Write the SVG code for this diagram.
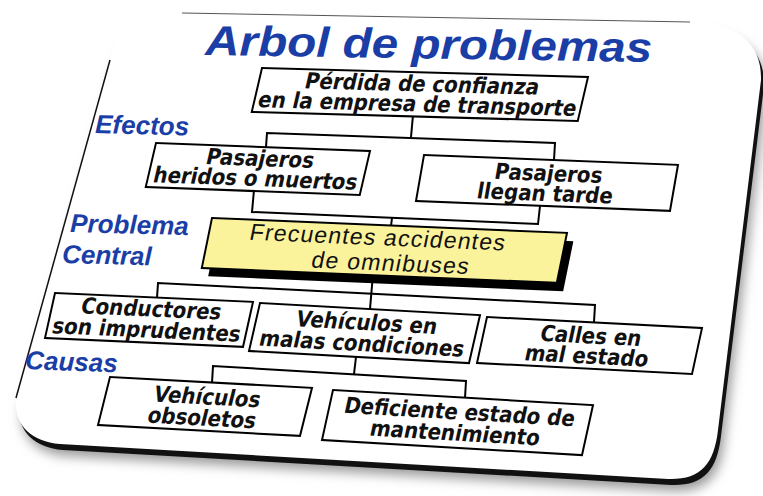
<svg xmlns="http://www.w3.org/2000/svg" width="763" height="496" viewBox="0 0 763 496">
<style>
.box{fill:#fff;stroke:#000;stroke-width:2}
.yel{fill:#fbf39c;stroke:#000;stroke-width:2}
.bt{font-family:"DejaVu Sans Condensed","DejaVu Sans",sans-serif;font-stretch:condensed;font-weight:bold;font-size:22px;fill:#111;text-anchor:middle}
.yt{font-family:"Liberation Sans",Arial,sans-serif;font-size:23px;fill:#111;text-anchor:middle}
.lab{font-family:"Liberation Sans",Arial,sans-serif;font-weight:bold;font-style:italic;font-size:26px;fill:#1a3ea6}
.title{font-family:"Liberation Sans",Arial,sans-serif;font-weight:bold;font-style:italic;font-size:42px;fill:#1a3ea6}
.con{fill:none;stroke:#000;stroke-width:2}
</style>
<defs>
<filter id="blur" x="-10%" y="-10%" width="120%" height="130%"><feGaussianBlur stdDeviation="6"/></filter>
</defs>
<rect width="763" height="496" fill="#fff"/>
<g id="card">
<path d="M 182,13 L 700,22 C 740,26 762,45 761,80 L 718,430 C 714,465 700,480 668,479 L 60,444 C 30,441 14,425 16,398 L 108,62 C 118,30 140,13 182,13 Z" fill="#9a9a9a" filter="url(#blur)" transform="translate(6,12)"/>
<path d="M 182,13 L 700,22 C 740,26 762,45 761,80 L 718,430 C 714,465 700,480 668,479 L 60,444 C 30,441 14,425 16,398 L 108,62 C 118,30 140,13 182,13 Z" fill="#111" transform="translate(3,6)"/>
<path d="M 182,13 L 700,22 C 740,26 762,45 761,80 L 718,430 C 714,465 700,480 668,479 L 60,444 C 30,441 14,425 16,398 L 108,62 C 118,30 140,13 182,13 Z" fill="#fff"/>
<path d="M 182,13 L 690,22" stroke="#555" stroke-width="1" fill="none"/>
<path d="M 110,60 L 16,398" stroke="#111" stroke-width="1.5" fill="none"/>
</g>
<g id="title">
<text class="title" x="205" y="55" textLength="447" lengthAdjust="spacingAndGlyphs" transform="rotate(0.9 205 55)">Arbol de problemas</text>
</g>
<g id="labels">
<text class="lab" x="95" y="133" transform="rotate(1.5 95 133)">Efectos</text>
<text class="lab" x="70" y="232" transform="rotate(1.5 70 232)">Problema</text>
<text class="lab" x="62" y="263" transform="rotate(1.5 62 263)">Central</text>
<text class="lab" x="25" y="369" transform="rotate(2 25 369)">Causas</text>
</g>
<g id="connectors">
<polyline class="con" points="413,115 411,137"/>
<polyline class="con" points="266,147 267,133 555,143 554,160"/>
<polyline class="con" points="254,190 252,212 538,224 540,206"/>
<polyline class="con" points="392,218 391,226"/>
<polyline class="con" points="373,274 370,309"/>
<polyline class="con" points="157,298 158,283 595,305 594,322"/>
<polyline class="con" points="356,357 354,374"/>
<polyline class="con" points="212,383 213,366 466,381 465,398"/>
</g>
<g id="n1" transform="matrix(1,0.0276,-0.233,1,262,68)">
<rect class="box" x="0" y="0" width="326" height="44"/>
<text class="bt" x="163" y="19">Pérdida de confianza</text>
<text class="bt" x="163" y="39">en la empresa de transporte</text>
</g>
<g id="n2" transform="matrix(1,0.0374,-0.233,1,156,143)">
<rect class="box" x="0" y="0" width="214" height="44"/>
<text class="bt" x="107" y="19">Pasajeros</text>
<text class="bt" x="107" y="39">heridos o muertos</text>
</g>
<g id="n3" transform="matrix(1,0.039,-0.174,1,424,155)">
<rect class="box" x="0" y="0" width="254" height="46"/>
<text class="bt" x="127" y="21">Pasajeros</text>
<text class="bt" x="127" y="41">llegan tarde</text>
</g>
<g id="central" transform="matrix(1,0.042,-0.204,1,212,218)">
<rect x="8" y="8" width="355" height="50" fill="#000"/>
<rect class="yel" x="0" y="0" width="355" height="50"/>
<text class="yt" x="168" y="20" textLength="255">Frecuentes accidentes</text>
<text class="yt" x="186" y="45" textLength="157">de omnibuses</text>
</g>
<g id="n4" transform="matrix(1,0.045,-0.222,1,55,293)">
<rect class="box" x="0" y="0" width="198" height="45"/>
<text class="bt" x="99" y="19">Conductores</text>
<text class="bt" x="99" y="40">son imprudentes</text>
</g>
<g id="n5" transform="matrix(1,0.055,-0.229,1,260,303)">
<rect class="box" x="0" y="0" width="220" height="48"/>
<text class="bt" x="110" y="21">Vehículos en</text>
<text class="bt" x="110" y="42">malas condiciones</text>
</g>
<g id="n6" transform="matrix(1,0.051,-0.217,1,487,317)">
<rect class="box" x="0" y="0" width="215" height="46"/>
<text class="bt" x="107" y="21">Calles en</text>
<text class="bt" x="107" y="41">mal estado</text>
</g>
<g id="n7" transform="matrix(1,0.054,-0.25,1,110,377)">
<rect class="box" x="0" y="0" width="202" height="48"/>
<text class="bt" x="101" y="22">Vehículos</text>
<text class="bt" x="101" y="43">obsoletos</text>
</g>
<g id="n8" transform="matrix(1,0.058,-0.22,1,333,390)">
<rect class="box" x="0" y="0" width="260" height="50"/>
<text class="bt" x="130" y="22">Deficiente estado de</text>
<text class="bt" x="130" y="43">mantenimiento</text>
</g>
</svg>
